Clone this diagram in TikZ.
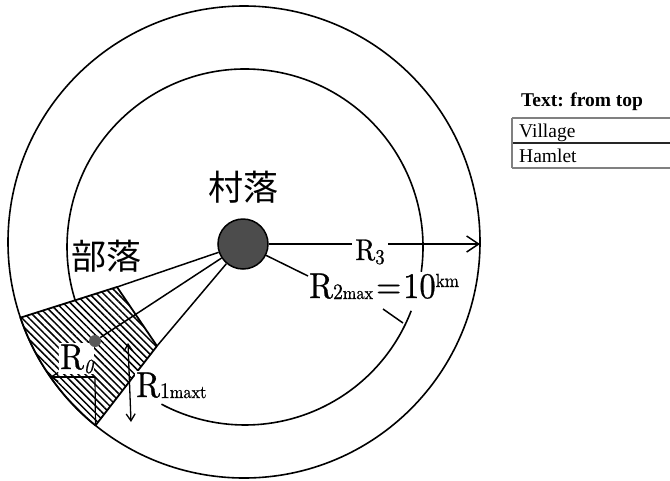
\documentclass[tikz,border=0pt]{standalone}
\usepackage{fontspec}
\newfontfamily\cjk{Noto Sans CJK JP}
\newfontfamily\tms{Liberation Serif}
\newfontfamily\lmten{lmroman10-regular}[Extension=.otf, ItalicFont=lmroman10-italic, FakeStretch=0.9, FakeBold=0.8]
\usetikzlibrary{arrows.meta,patterns.meta,calc}
\begin{document}
\begin{tikzpicture}[x=1pt,y=1pt,
  ring/.style={line width=1.6pt},
  ray/.style={line width=1.5pt},
  bigR/.style={inner sep=0pt, font=\lmten\fontsize{36}{36}\selectfont},
  cjklab/.style={inner sep=0pt, font=\cjk\fontsize{35}{35}\selectfont},
  barb/.style={-{Straight Barb[length=12pt,width=16pt,line width=1.5pt]}},
  smallbarb/.style={-{Straight Barb[length=7pt,width=9pt,line width=1.3pt]}},
  dblbarb/.style={{Straight Barb[length=7pt,width=9pt,line width=1.3pt]}-{Straight Barb[length=7pt,width=9pt,line width=1.3pt]}},
  tabtext/.style={inner sep=0pt, anchor=base west, font=\tms\fontsize{19.5}{19.5}\selectfont},
  tabline/.style={line width=1.3pt}]
\useasboundingbox (0,0) rectangle (670,-480);

% rings
\draw[ring] ([shift={(245,-247)}]-8:178) arc[start angle=-8,end angle=198,radius=178];
\draw[ring] ([shift={(245,-247)}]242:178) arc[start angle=242,end angle=339,radius=178];
\draw[ring] (244,-242) circle[radius=236];

% hamlet territory
\coordinate (h1) at ([shift={(244,-242)}]198.7:236);
\coordinate (h2) at (117,-287);
\coordinate (h3) at (157,-346);
\coordinate (h4) at ([shift={(244,-242)}]231:236);
\fill[white] (h1) -- (h2) -- (h3) -- (h4) arc[start angle=231,end angle=198.7,radius=236] -- cycle;
\fill[pattern={Lines[angle=-45,distance=5pt,line width=1.5pt]}] (h1) -- (h2) -- (h3) -- (h4) arc[start angle=231,end angle=198.7,radius=236] -- cycle;
\draw[line width=1.8pt, line join=round] (h1) -- (h2) -- (h3) -- (h4) arc[start angle=231,end angle=198.7,radius=236] -- cycle;

% R0 label (under the hamlet dot)
\node[bigR, anchor=base west, fill=white, inner sep=1pt] (r0) at (59,-369) {R\raisebox{-4pt}{\fontsize{20}{20}\selectfont\itshape 0}};

% village and hamlet dots
\node[circle, draw, line width=1.5pt, fill=black!70, minimum size=50pt, inner sep=0pt] (village) at (243,-244) {};
\node[circle, fill=black!65, minimum size=12pt, inner sep=0pt] (hamlet) at (95,-341) {};

% rays to hamlet
\draw[ray] (village) -- (h2);
\draw[ray] (village) -- (hamlet);
\draw[ray] (village) -- (h3);

% R3 arrow
\coordinate (r3tip) at (480,-244);
\draw[ray,barb] (village) -- (r3tip);
\node[fill=white, inner sep=3pt, anchor=base, font=\lmten\fontsize{30}{30}\selectfont] (r3) at (370,-260) {R\raisebox{-4pt}{\fontsize{21}{21}\selectfont 3}};

% R2max
\coordinate (r2end) at (308,-276);
\draw[ray] (village) -- (r2end);
\node[bigR, anchor=base west] (r2) at (309,-298) {R\raisebox{-1pt}{\fontsize{22}{22}\selectfont 2\fontsize{18}{18}\selectfont max}\kern3pt=\kern2pt10\raisebox{11pt}{\fontsize{19}{19}\selectfont km}};
\coordinate (pa) at (383,-309);
\coordinate (pb) at (403,-323);
\draw[ray] (pa) -- (pb);

% R0 arrows
\coordinate (r0a) at (95,-377);
\coordinate (r0l) at (50,-377);
\draw[line width=1.2pt, smallbarb] (r0a) -- (r0l);
\draw[line width=1.2pt] (r0a) -- (h4);

% R1max t
\node[bigR, anchor=base west, fill=white, inner sep=1pt] (r1) at (135,-397) {R\raisebox{-1pt}{\fontsize{22}{22}\selectfont 1\fontsize{18}{18}\selectfont maxt}};
\coordinate (r1t) at (128,-343);
\coordinate (r1b) at (131,-422);
\draw[line width=1.3pt, dblbarb] (r1t) -- (r1b);

% CJK labels
\node[cjklab] (vlab) at (243,-187) {村落};
\node[cjklab] (hlab) at (106,-256) {部落};

% table
\node[tabtext, font=\tms\bfseries\fontsize{19.5}{19.5}\selectfont] (thead) at (521,-106) {Text: from top};
\draw[tabline, black!50] (512,-118) -- (670,-118);
\draw[tabline, black!85] (512,-143) -- (670,-143);
\draw[tabline, black!50] (512,-168) -- (670,-168);
\draw[tabline, black!50] (512,-118) -- (512,-168);
\node[tabtext] (row1) at (519,-137) {Village};
\node[tabtext] (row2) at (519,-162) {Hamlet};
\end{tikzpicture}
\end{document}
